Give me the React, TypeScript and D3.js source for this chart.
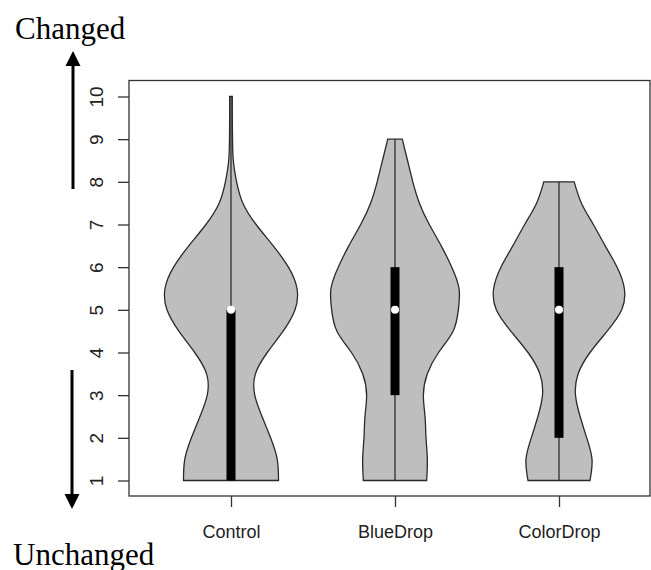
import React, { useEffect, useRef } from 'react';
import * as d3 from 'd3';

// groups and the score levels the densities were read at
const groups = ['Control', 'BlueDrop', 'ColorDrop'];
const levels = [1, 1.5, 2, 2.5, 3, 3.5, 4, 4.5, 5, 5.5, 6, 6.5, 7, 7.5, 8, 8.5, 9, 9.5, 10];

// relative kernel density per group (one value per level, up to the group's max)
const controlDensity = [0.72, 0.7, 0.6, 0.47, 0.36, 0.37, 0.55, 0.79, 0.97, 1.0, 0.87, 0.64, 0.38, 0.18, 0.085, 0.035, 0.023, 0.02, 0.02];
const blueDropDensity = [0.48, 0.49, 0.47, 0.455, 0.43, 0.49, 0.66, 0.88, 0.96, 0.97, 0.86, 0.7, 0.52, 0.37, 0.27, 0.19, 0.11];
const colorDropDensity = [0.47, 0.5, 0.42, 0.32, 0.25, 0.29, 0.47, 0.73, 0.95, 0.99, 0.88, 0.7, 0.52, 0.34, 0.23];

// box plot stats
const q1 = [1, 3, 2];
const medians = [5, 5, 5];
const q3 = [5, 6, 6];
const whiskerLow = [1, 1, 1];
const whiskerHigh = [10, 9, 8];

const yTicks = [1, 2, 3, 4, 5, 6, 7, 8, 9, 10];

const App = () => {
    const ref = useRef<SVGSVGElement | null>(null);

    useEffect(() => {
        const width = 651;
        const height = 570;
        const box = { left: 129, right: 650, top: 80.5, bottom: 496 };

        const svg = d3.select(ref.current);
        svg.selectAll('*').remove();

        const x = d3.scalePoint().domain(groups).range([231, 559]);
        const y = d3.scaleLinear().domain([1, 10]).range([480.5, 96.5]);
        const w = d3.scaleLinear().domain([0, 1]).range([0, 66]);

        const densities = [controlDensity, blueDropDensity, colorDropDensity];

        // plot frame
        svg.append('rect')
            .attr('x', box.left).attr('y', box.top)
            .attr('width', box.right - box.left).attr('height', box.bottom - box.top)
            .attr('fill', 'none').attr('stroke', '#333').attr('stroke-width', 1.3);

        // violins
        groups.forEach((g, i) => {
            const cx = x(g) as number;
            const pts = densities[i].map((d, j) => ({ v: levels[j], d }));
            const area = d3.area<{ v: number; d: number }>()
                .y(p => y(p.v))
                .x0(p => cx - w(p.d))
                .x1(p => cx + w(p.d))
                .curve(d3.curveNatural);
            svg.append('path')
                .attr('d', area(pts))
                .attr('fill', '#bebebe')
                .attr('stroke', '#2a2a2a')
                .attr('stroke-width', 1.3);

            svg.append('line')
                .attr('x1', cx).attr('x2', cx)
                .attr('y1', y(whiskerLow[i])).attr('y2', y(whiskerHigh[i]))
                .attr('stroke', '#222').attr('stroke-width', 1.2);

            svg.append('rect')
                .attr('x', cx - 4.5).attr('width', 9)
                .attr('y', y(q3[i])).attr('height', y(q1[i]) - y(q3[i]))
                .attr('fill', '#000');

            svg.append('circle')
                .attr('cx', cx).attr('cy', y(medians[i])).attr('r', 4)
                .attr('fill', '#fff');
        });

        // y axis
        const yAxis = svg.append('g')
            .attr('transform', `translate(${box.left},0)`)
            .call(d3.axisLeft(y).tickValues(yTicks).tickSize(11).tickSizeOuter(0));
        yAxis.select('.domain').remove();
        yAxis.selectAll('.tick line').attr('stroke', '#333').attr('stroke-width', 1.3);
        yAxis.selectAll('.tick text')
            .attr('x', null).attr('dy', null)
            .attr('transform', 'translate(-26,0) rotate(-90)')
            .attr('text-anchor', 'middle')
            .attr('font-family', 'Liberation Sans, Arial, sans-serif')
            .attr('font-size', 19)
            .attr('fill', '#222');

        // x axis
        const xAxis = svg.append('g')
            .attr('transform', `translate(0,${box.bottom})`)
            .call(d3.axisBottom(x).tickSize(11).tickSizeOuter(0));
        xAxis.select('.domain').remove();
        xAxis.selectAll('.tick line').attr('stroke', '#333').attr('stroke-width', 1.3);
        xAxis.selectAll('.tick text')
            .attr('y', 42).attr('dy', null)
            .attr('font-family', 'Liberation Sans, Arial, sans-serif')
            .attr('font-size', 18)
            .attr('fill', '#222');

        // arrows
        const arrows = [
            { x: 73, from: 189, to: 66, tip: 51 },
            { x: 72, from: 370, to: 494, tip: 509 }
        ];
        arrows.forEach(a => {
            svg.append('line')
                .attr('x1', a.x).attr('x2', a.x)
                .attr('y1', a.from).attr('y2', a.to)
                .attr('stroke', '#000').attr('stroke-width', 3);
            svg.append('path')
                .attr('d', `M${a.x - 7.5},${a.to} L${a.x + 7.5},${a.to} L${a.x},${a.tip} Z`)
                .attr('fill', '#000');
        });

        svg.append('text')
            .attr('x', 15).attr('y', 39)
            .attr('font-family', 'Liberation Serif, Times New Roman, serif')
            .attr('font-size', 31)
            .attr('fill', '#000')
            .text('Changed');

        svg.append('text')
            .attr('x', 13).attr('y', 565)
            .attr('font-family', 'Liberation Serif, Times New Roman, serif')
            .attr('font-size', 31)
            .attr('fill', '#000')
            .text('Unchanged');

        svg.attr('width', width).attr('height', height);
    }, []);

    return (
        <svg ref={ref} width={651} height={570}
            style={{ position: 'absolute', left: 0, top: 0, background: '#fff' }} />
    );
};

export default App;
